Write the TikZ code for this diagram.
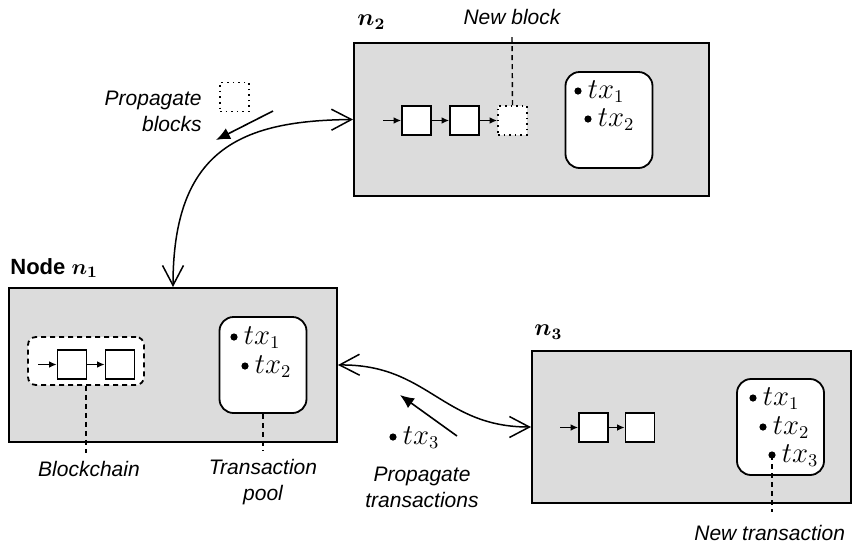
\documentclass[tikz,border=0pt]{standalone}
\usepackage{fontspec}
\setmainfont{Liberation Sans}
\usepackage{amsmath}
\usetikzlibrary{arrows.meta}
\definecolor{peerfill}{RGB}{220,220,220}
\tikzset{
  lbl/.style={font=\fontsize{10.5}{13}\selectfont\itshape, inner sep=0pt, align=center},
  peer/.style={draw, line width=1pt, fill=peerfill, inner sep=0pt},
  pool/.style={draw, line width=0.9pt, fill=white, rounded corners=7pt, inner sep=0pt,
    minimum width=43.5pt, minimum height=48pt},
  blk/.style={draw, line width=0.8pt, fill=white, inner sep=0pt, minimum size=14.5pt},
  newblk/.style={blk, dotted},
  chainarr/.style={-{Latex[length=3.8pt,width=3.4pt]}, line width=0.8pt},
  link/.style={{Straight Barb[length=10pt,width=10.5pt]}-{Straight Barb[length=10pt,width=10.5pt]}, line width=0.75pt},
  flow/.style={-{Latex[length=7pt,width=6pt]}, line width=0.8pt},
  callout/.style={line width=0.7pt, dash pattern=on 2.5pt off 2pt},
  tx/.style={font=\fontsize{13.5}{15}\selectfont, inner sep=0pt, anchor=base west},
  peername/.style={font=\fontsize{12}{14}\selectfont, inner sep=0pt, anchor=west},
}
\newcommand{\bul}[1]{\fill #1 circle (1.8pt);}
\begin{document}
\begin{tikzpicture}[x=0.5pt,y=-0.5pt]
\useasboundingbox (0,0) rectangle (864,548);

% ---------- peer n1 ----------
\node[peer, minimum width=164pt, minimum height=77pt] (n1) at (173,365) {};
\node[peername, font=\fontsize{11}{13}\selectfont\bfseries] (n1name) at (10,268) {Node $\boldsymbol{n_1}$};
\node[draw, line width=0.9pt, dash pattern=on 2.5pt off 2pt, fill=white, rounded corners=4pt,
  minimum width=58pt, minimum height=24pt, inner sep=0pt] (chain1) at (86,361) {};
\node[blk] (a1) at (72,364.5) {};
\node[blk] (a2) at (120,364.5) {};
\coordinate (a0) at (38,364.5);
\draw[chainarr] (a0) -- (a1.west);
\draw[chainarr] (a1.east) -- (a2.west);
\node[pool] (pool1) at (263,365) {};
\bul{(234,337)} \node[tx] (p1t1) at (243.5,344) {$tx_1$};
\bul{(245,366)} \node[tx] (p1t2) at (254.5,373) {$tx_2$};

% ---------- peer n2 ----------
\node[peer, minimum width=177.5pt, minimum height=76.5pt] (n2) at (531.5,119.5) {};
\node[peername] (n2name) at (357,22) {$\boldsymbol{n_2}$};
\node[blk] (b1) at (416.5,120.5) {};
\node[blk] (b2) at (464.5,120.5) {};
\node[newblk] (b3) at (512.5,120.5) {};
\coordinate (b0) at (383,120.5);
\draw[chainarr] (b0) -- (b1.west);
\draw[chainarr] (b1.east) -- (b2.west);
\draw[chainarr] (b2.east) -- (b3.west);
\node[pool] (pool2) at (609,120) {};
\bul{(578,91)} \node[tx] (p2t1) at (587.5,98) {$tx_1$};
\bul{(588,119)} \node[tx] (p2t2) at (597.5,126) {$tx_2$};
\node[lbl] (newblock) at (512,17) {New block};
\coordinate (nbend) at (512,35);
\draw[callout] (b3.north) -- (nbend);

% ---------- peer n3 ----------
\node[peer, minimum width=159.5pt, minimum height=76pt] (n3) at (691.5,427) {};
\node[peername] (n3name) at (534,332) {$\boldsymbol{n_3}$};
\node[blk] (c1) at (593.5,427.5) {};
\node[blk] (c2) at (640,427.5) {};
\coordinate (c0) at (560,427.5);
\draw[chainarr] (c0) -- (c1.west);
\draw[chainarr] (c1.east) -- (c2.west);
\node[pool] (pool3) at (780.5,427) {};
\bul{(753,398)} \node[tx] (p3t1) at (762.5,405) {$tx_1$};
\bul{(763,427)} \node[tx] (p3t2) at (772.5,434) {$tx_2$};
\coordinate (newtx) at (772,455);
\bul{(newtx)} \node[tx] (p3t3) at (781.5,462) {$tx_3$};
\coordinate (ntend) at (772,512);
\draw[callout] (newtx) -- (ntend);
\node[lbl, anchor=west] (newtxlbl) at (694,533) {New transaction};

% ---------- callouts under n1 ----------
\coordinate (bcend) at (86,453);
\draw[callout] (chain1.south) -- (bcend);
\node[lbl] (bclbl) at (89,469) {Blockchain};
\coordinate (tpend) at (263,450);
\draw[callout] (pool1.south) -- (tpend);
\node[lbl] (tplbl) at (263,482) {Transaction\\pool};

% ---------- links between peers ----------
\draw[link] (n1.north) .. controls (173,150) and (240,120.5) .. (n2.west);
\draw[link] (n1.east) .. controls (428,364) and (442,427) .. (n3.west);

% ---------- block propagation ----------
\node[newblk] (pblk) at (234.5,97) {};
\node[lbl, align=right, anchor=east] (pblbl) at (202,111) {Propagate\\blocks};
\coordinate (pbs) at (273,111);
\coordinate (pbe) at (216,140);
\draw[flow] (pbs) -- (pbe);

% ---------- transaction propagation ----------
\coordinate (pts) at (457,436);
\coordinate (pte) at (400,395);
\draw[flow] (pts) -- (pte);
\bul{(393,437)} \node[tx] (ptx) at (402.5,444) {$tx_3$};
\node[lbl] (ptlbl) at (422,487) {Propagate\\transactions};
\end{tikzpicture}
\end{document}
